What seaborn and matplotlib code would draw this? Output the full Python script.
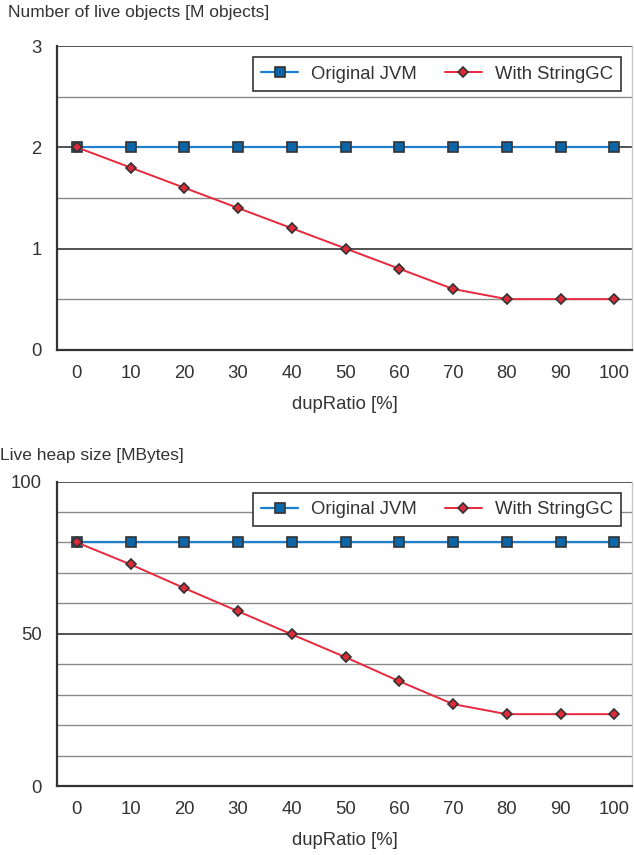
import numpy as np
import pandas as pd
import matplotlib
matplotlib.use("Agg")
import matplotlib.pyplot as plt
import seaborn as sns

# données
dup_ratio = ["0", "10", "20", "30", "40", "50", "60", "70", "80", "90", "100"]
objects_original = [2.0, 2.0, 2.0, 2.0, 2.0, 2.0, 2.0, 2.0, 2.0, 2.0, 2.0]
objects_stringgc = [2.0, 1.8, 1.6, 1.4, 1.2, 1.0, 0.8, 0.6, 0.5, 0.5, 0.5]
heap_original = [80, 80, 80, 80, 80, 80, 80, 80, 80, 80, 80]
heap_stringgc = [80, 72.8, 65.0, 57.4, 49.8, 42.3, 34.4, 26.9, 23.6, 23.6, 23.6]

sns.set_style("white")
plt.rcParams['font.family'] = ['Liberation Sans', 'DejaVu Sans']

blue_line = "#1f7fcf"
blue_fill = "#0b66a8"
red_line = "#e8283c"
red_fill = "#e02a3a"
edge = "#333333"
txt = "#333333"

fig = plt.figure(figsize=(6.34, 8.55), dpi=100)
ax1 = fig.add_axes([0.0899, 0.591, 0.907, 0.355])
ax2 = fig.add_axes([0.0899, 0.0807, 0.907, 0.356])

xpos = np.arange(len(dup_ratio))


def draw(ax, orig, sgc, ymax, major, minor):
    df = pd.DataFrame({"x": np.concatenate([xpos, xpos]),
                       "y": orig + sgc,
                       "serie": ["Original JVM"] * len(xpos) + ["With StringGC"] * len(xpos)})
    # grille
    for v in np.arange(minor, ymax + 1e-9, minor):
        is_major = abs(v / major - round(v / major)) < 1e-6
        ax.axhline(v, color="#444444" if is_major else "#8a8a8a",
                   lw=1.3 if is_major else 1.0, zorder=0)
    sns.lineplot(data=df[df.serie == "Original JVM"], x="x", y="y", ax=ax,
                 color=blue_line, lw=1.6, marker="s", markersize=7,
                 markerfacecolor=blue_fill, markeredgecolor=edge, markeredgewidth=1.2,
                 label="Original JVM", zorder=3)
    sns.lineplot(data=df[df.serie == "With StringGC"], x="x", y="y", ax=ax,
                 color=red_line, lw=1.4, marker="D", markersize=5.5,
                 markerfacecolor=red_fill, markeredgecolor=edge, markeredgewidth=1.2,
                 label="With StringGC", zorder=4)
    ax.set_xlim(-0.37, 10.33)
    ax.set_ylim(0, ymax)
    ax.set_yticks(np.arange(0, ymax + 1e-9, major))
    ax.set_xticks(xpos)
    ax.set_xticklabels(dup_ratio)
    ax.tick_params(axis="x", direction="in", length=6, width=1.2, color=edge,
                   labelsize=13.3, pad=11, labelcolor=txt)
    ax.tick_params(axis="y", length=0, labelsize=13.3, pad=11, labelcolor=txt)
    for s in ["left", "bottom"]:
        ax.spines[s].set_color(edge)
        ax.spines[s].set_linewidth(1.6)
    ax.spines["top"].set_visible(False)
    ax.spines["right"].set_color("#c8c8c8")
    ax.spines["right"].set_linewidth(1.0)
    ax.set_xlabel("dupRatio [%]", fontsize=13.3, color=txt, labelpad=10)
    ax.set_ylabel("")
    leg = ax.legend(loc="upper right", ncol=2, fontsize=13.3, frameon=True,
                    fancybox=False, edgecolor=edge, framealpha=1,
                    borderaxespad=0.6, handlelength=2.0, columnspacing=1.5,
                    borderpad=0.45, handletextpad=0.7)
    leg.get_frame().set_linewidth(1.2)
    for t in leg.get_texts():
        t.set_color(txt)


draw(ax1, objects_original, objects_stringgc, 3, 1, 0.5)
draw(ax2, heap_original, heap_stringgc, 100, 50, 10)

fig.text(8 / 634, 1 - 13 / 855, "Number of live objects [M objects]",
         fontsize=12.5, color=txt, ha="left", va="center")
fig.text(0, 1 - 455 / 855, "Live heap size [MBytes]",
         fontsize=12.5, color=txt, ha="left", va="center")

fig.savefig("out.png", dpi=100)
